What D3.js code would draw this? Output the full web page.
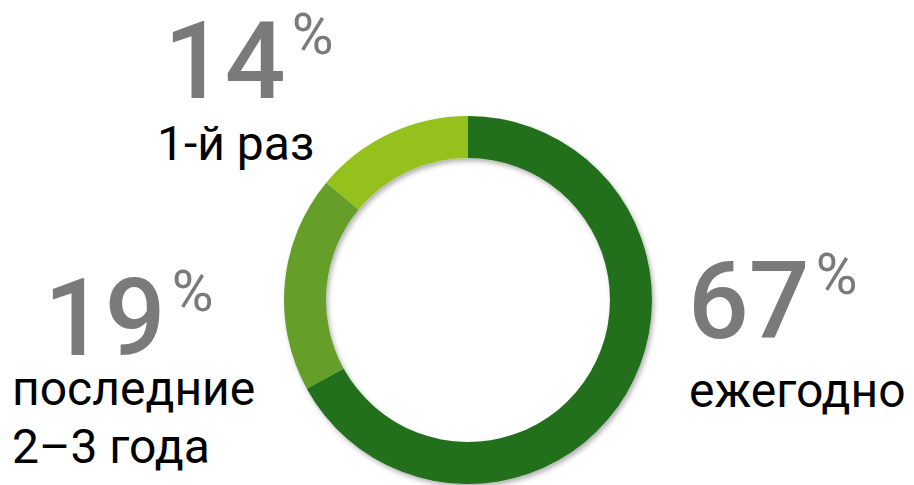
<!DOCTYPE html>
<html>
<head>
<meta charset="utf-8">
<script src="https://cdn.jsdelivr.net/npm/d3@7"></script>
<style>
  body { margin: 0; background: #fff; }
  svg { display: block; }
</style>
</head>
<body>
<svg id="chart"></svg>
<script>
// DATA ////////////////////////////////////////////////////////////////
var categories = ["ежегодно", "последние 2–3 года", "1-й раз"];
var values = [67, 19, 14];
var labelLines = [["ежегодно"], ["последние", "2–3 года"], ["1-й раз"]];
var colours = ["#23701f", "#659f2c", "#95c11f"];

// SETUP ///////////////////////////////////////////////////////////////
var WIDTH = 914, HEIGHT = 485;
var CX = 468, CY = 300, R_OUT = 184, R_IN = 142;

var svg = d3.select("#chart")
    .attr("width", WIDTH)
    .attr("height", HEIGHT);

// soft shadow under the ring
var filter = svg.append("defs").append("filter")
    .attr("id", "shadow")
    .attr("x", "-20%").attr("y", "-20%")
    .attr("width", "140%").attr("height", "140%");
filter.append("feDropShadow")
    .attr("dx", 2).attr("dy", 3)
    .attr("stdDeviation", 2.5)
    .attr("flood-color", "#000")
    .attr("flood-opacity", 0.3);

var pie = d3.pie().sort(null).value(function (d) { return d; });
var arc = d3.arc().innerRadius(R_IN).outerRadius(R_OUT);
var colour = d3.scaleOrdinal().domain(categories).range(colours);

// RING ////////////////////////////////////////////////////////////////
svg.append("g")
    .attr("transform", "translate(" + CX + "," + CY + ")")
    .attr("filter", "url(#shadow)")
    .selectAll("path")
    .data(pie(values))
    .enter().append("path")
    .attr("d", arc)
    .attr("fill", function (d, i) { return colour(categories[i]); });

// LABELS //////////////////////////////////////////////////////////////
// layout of each label block: number origin and caption origin
var layout = [
    { nx: 688, ny: 338, cx: 689, cy: 407 },
    { nx: 44, ny: 355, cx: 12, cy: 405 },
    { nx: 164, ny: 98, cx: 157, cy: 160 }
];

var labels = svg.append("g")
    .style("font-family", "Roboto, 'Noto Sans', sans-serif")
    .selectAll("g")
    .data(values)
    .enter().append("g");

labels.append("text")
    .attr("x", function (d, i) { return layout[i].nx; })
    .attr("y", function (d, i) { return layout[i].ny; })
    .attr("fill", "#7a7a7a")
    .style("font-size", "107px")
    .style("font-weight", 500)
    .text(function (d) { return d; })
    .append("tspan")
    .style("font-size", "57px")
    .style("font-weight", 400)
    .attr("dx", 6)
    .attr("dy", -44)
    .text("%");

labels.append("text")
    .attr("y", function (d, i) { return layout[i].cy; })
    .attr("fill", "#000")
    .style("font-size", "48px")
    .selectAll("tspan")
    .data(function (d, i) { return labelLines[i].map(function (t) { return { t: t, i: i }; }); })
    .enter().append("tspan")
    .attr("x", function (d) { return layout[d.i].cx; })
    .attr("dy", function (d, j) { return j === 0 ? 0 : 58; })
    .text(function (d) { return d.t; });
</script>
</body>
</html>
